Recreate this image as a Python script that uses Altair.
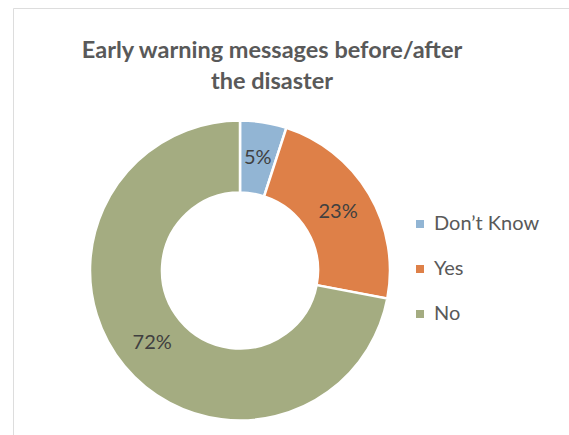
import altair as alt
import pandas as pd

categories = ["Don’t Know", "Yes", "No"]
values = [5, 23, 72]
labels = ["5%", "23%", "72%"]
orders = [0, 1, 2]
colors = ["#92B5D4", "#DE8048", "#A4AC81"]

df = pd.DataFrame({"category": categories, "value": values, "label": labels, "order": orders})

cx, cy = 227, 262.5  # pie centre inside the framed view

base = alt.Chart(df).encode(
    theta=alt.Theta("value:Q", stack=True),
    order=alt.Order("order:Q"),
)

arc = base.mark_arc(outerRadius=150, innerRadius=78, stroke="white", strokeWidth=2.5).encode(
    color=alt.Color(
        "category:N",
        scale=alt.Scale(domain=categories, range=colors),
        legend=alt.Legend(
            title=None, orient="none", legendX=397, legendY=206, padding=0,
            symbolType="square", symbolSize=64, symbolStrokeWidth=0,
            labelFontSize=20, labelFont="Lato", labelColor="#595959",
            labelOffset=4, rowPadding=25,
        ),
    ),
    x=alt.value(cx),
    y=alt.value(cy),
)

text = base.mark_text(radius=114, fontSize=20, font="Lato", color="#404040").encode(
    text="label:N",
    x=alt.value(cx),
    y=alt.value(cy),
)

chart = alt.layer(arc, text).properties(
    width=556,
    height=427,
    title=alt.TitleParams(
        text=["Early warning messages before/after", "the disaster"],
        font="Lato", fontSize=23.5, fontWeight="bold", color="#595959",
        anchor="middle", offset=-85, dx=-19, lineHeight=31,
    ),
    autosize=alt.AutoSizeParams(type="none"),
    padding={"left": 13, "top": 8, "right": 0, "bottom": 0},
).configure_view(stroke="#D9D9D9", strokeWidth=1.5).configure(background="white")

chart.save("out.html", embed_options={"renderer": "svg", "actions": False})
